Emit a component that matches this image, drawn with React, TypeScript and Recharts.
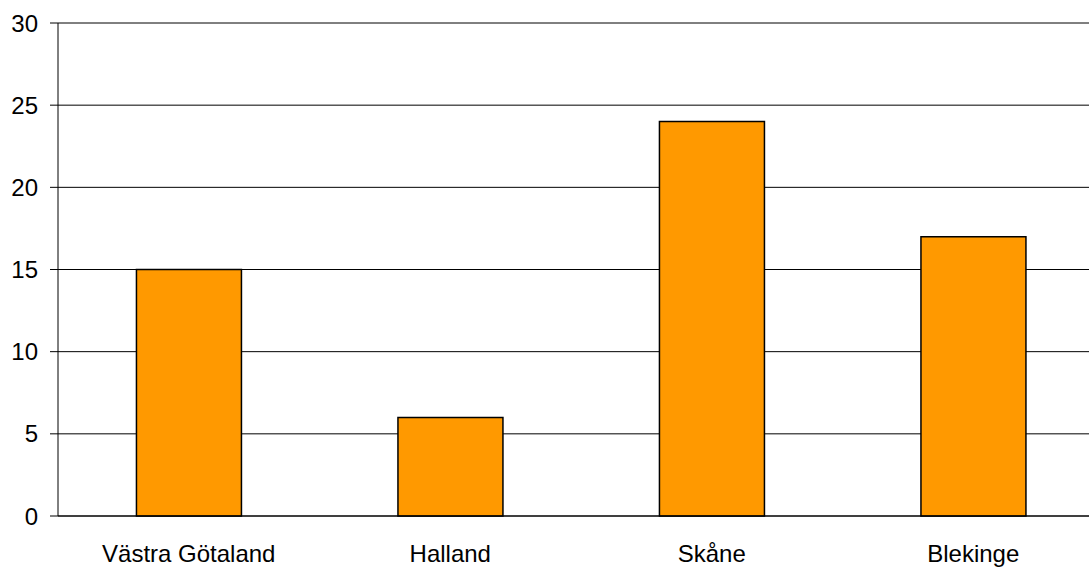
import { BarChart, Bar, XAxis, YAxis, CartesianGrid } from "recharts";

const regions = ["Västra Götaland", "Halland", "Skåne", "Blekinge"];
const counts = [15, 6, 24, 17];
const yTicks = [0, 5, 10, 15, 20, 25, 30];

const data = regions.map((region, i) => ({ region, count: counts[i] }));

const font = { fill: "#000", fontSize: 24, fontFamily: "'Liberation Sans', Arial, sans-serif" };

export default function App() {
  return (
    <div
      style={{
        position: "absolute",
        left: 0,
        top: 0,
        width: 1089,
        height: 567,
        overflow: "hidden",
        background: "#fff",
      }}
    >
      <BarChart
        width={1110}
        height={567}
        data={data}
        margin={{ top: 23, right: 6, bottom: 0, left: 0 }}
        barCategoryGap="30%"
      >
        <CartesianGrid vertical={false} stroke="#000" strokeWidth={1} />
        <XAxis
          dataKey="region"
          height={51}
          tickLine={false}
          tickSize={0}
          tickMargin={29}
          axisLine={{ stroke: "#000" }}
          tick={font}
          interval={0}
        />
        <YAxis
          width={58}
          domain={[0, 30]}
          ticks={yTicks}
          tickSize={8}
          tickMargin={12}
          tickLine={{ stroke: "#000" }}
          axisLine={{ stroke: "#000" }}
          tick={font}
        />
        <Bar
          dataKey="count"
          fill="#FF9900"
          stroke="#000"
          strokeWidth={1.5}
          isAnimationActive={false}
        />
      </BarChart>
    </div>
  );
}
